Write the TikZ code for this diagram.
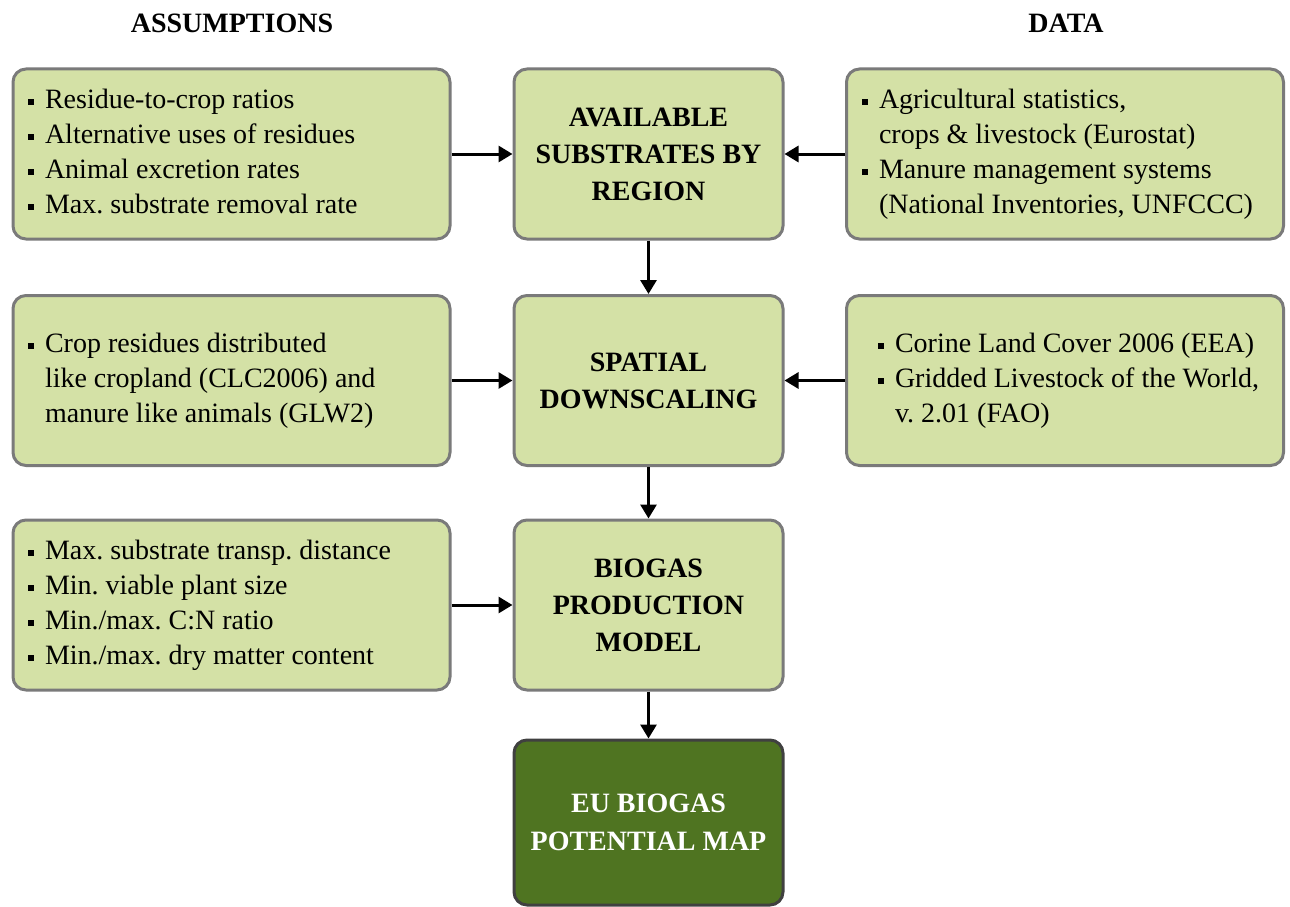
\documentclass[tikz,border=0pt]{standalone}
\usepackage{fontspec}
\setmainfont{Liberation Serif}
\usetikzlibrary{arrows.meta}
\definecolor{boxfill}{RGB}{212,225,166}
\definecolor{boxline}{RGB}{122,122,122}
\definecolor{darkfill}{RGB}{79,116,33}
\definecolor{darkline}{RGB}{64,64,64}
\newcommand\bul{\makebox[17pt][l]{\rule[3.2pt]{6pt}{6pt}}}
\newcommand\ind{\hspace*{17pt}}
\newcommand\sidetext[2]{\makebox[#1][l]{\begin{tabular}{@{}l@{}}#2\end{tabular}}}
\tikzset{
  base/.style={rounded corners=13pt, line width=3pt, inner sep=0pt,
    font=\fontsize{28}{35}\selectfont, minimum height=170pt},
  sidebox/.style={base, draw=boxline, fill=boxfill, minimum width=437pt},
  mainbox/.style={base, draw=boxline, fill=boxfill, minimum width=269pt,
    align=center, font=\fontsize{28}{37}\selectfont\bfseries},
  finalbox/.style={base, draw=darkline, fill=darkfill, text=white, minimum width=269pt,
    minimum height=165pt, align=center, font=\fontsize{28}{38}\selectfont\bfseries},
  header/.style={font=\fontsize{28}{34}\selectfont\bfseries, inner sep=0pt},
  arr/.style={line width=3pt, -{Triangle[length=14pt,width=16pt]}},
}
\renewcommand\arraystretch{1}
\setlength{\tabcolsep}{0pt}
\frenchspacing
\begin{document}
\begin{tikzpicture}[x=1pt,y=-1pt]
\useasboundingbox (0,0) rectangle (1290,907);
\node[header] (hA) at (232,23) {ASSUMPTIONS};
\node[header] (hD) at (1066,23) {DATA};

\node[sidebox] (a1) at (231.5,154) {\sidetext{407pt}{\bul Residue-to-crop ratios\\ \bul Alternative uses of residues\\ \bul Animal excretion rates\\ \bul Max.\ substrate removal rate}};
\node[mainbox] (m1) at (648.5,154) {AVAILABLE\\SUBSTRATES BY\\REGION};
\node[sidebox] (d1) at (1065,154) {\sidetext{406pt}{\bul Agricultural statistics,\\ \ind crops \& livestock (Eurostat)\\ \bul Manure management systems\\ \ind (National Inventories, UNFCCC)}};

\node[sidebox] (a2) at (231.5,380.5) {\sidetext{407pt}{\bul Crop residues distributed\\ \ind like cropland (CLC2006) and\\ \ind manure like animals (GLW2)}};
\node[mainbox] (m2) at (648.5,380.5) {SPATIAL\\DOWNSCALING};
\node[sidebox] (d2) at (1065,380.5) {\sidetext{374pt}{\bul Corine Land Cover 2006 (EEA)\\ \bul Gridded Livestock of the World,\\ \ind v.\ 2.01 (FAO)}};

\node[sidebox] (a3) at (231.5,605) {\sidetext{407pt}{\bul Max.\ substrate transp.\ distance\\ \bul Min.\ viable plant size\\ \bul Min./max.\ C:N ratio\\ \bul Min./max.\ dry matter content}};
\node[mainbox] (m3) at (648.5,605) {BIOGAS\\PRODUCTION\\MODEL};

\node[finalbox] (f) at (648.5,822.5) {EU BIOGAS\\POTENTIAL MAP};

\draw[arr] (a1) -- (m1);
\draw[arr] (d1) -- (m1);
\draw[arr] (a2) -- (m2);
\draw[arr] (d2) -- (m2);
\draw[arr] (a3) -- (m3);
\draw[arr] (m1) -- (m2);
\draw[arr] (m2) -- (m3);
\draw[arr] (m3) -- (f);
\end{tikzpicture}
\end{document}
